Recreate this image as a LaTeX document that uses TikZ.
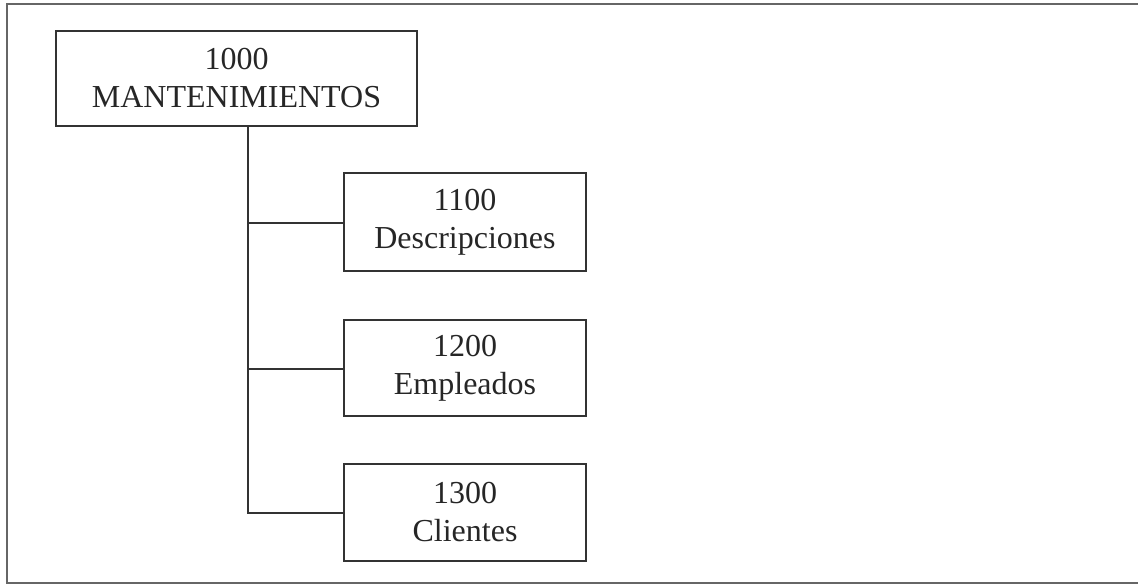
\documentclass[tikz,border=0pt]{standalone}
\usepackage{fontspec}
\setmainfont{Liberation Serif}
\begin{document}
\begin{tikzpicture}[x=1pt,y=-1pt,
  box/.style={draw=black!80, line width=2pt, rectangle, inner sep=0pt, align=center,
    font=\fontsize{32}{38}\selectfont, text=black!85},
  link/.style={draw=black!80, line width=2pt},
  frameline/.style={draw=black!60, line width=2pt}]
\useasboundingbox (0,0) rectangle (1138,585);
\draw[frameline] (1138,4.5) -- (7,4.5) -- (7,583) -- (1138,583);
\node[box, minimum width=361pt, minimum height=95pt] (root) at (236.5,78.5) {1000\\MANTENIMIENTOS};
\node[box, minimum width=242pt, minimum height=98pt] (c1) at (465,222) {1100\\Descripciones};
\node[box, minimum width=242pt, minimum height=96pt] (c2) at (465,368) {1200\\Empleados};
\node[box, minimum width=242pt, minimum height=97pt] (c3) at (465,512.5) {1300\\Clientes};
\coordinate (top) at (248,126);
\coordinate (j1) at (248,223);
\coordinate (j2) at (248,369);
\coordinate (j3) at (248,513);
\draw[link] (top) -- (j3) -- (j3 -| c3.west);
\draw[link] (j1) -- (j1 -| c1.west);
\draw[link] (j2) -- (j2 -| c2.west);
\end{tikzpicture}
\end{document}
